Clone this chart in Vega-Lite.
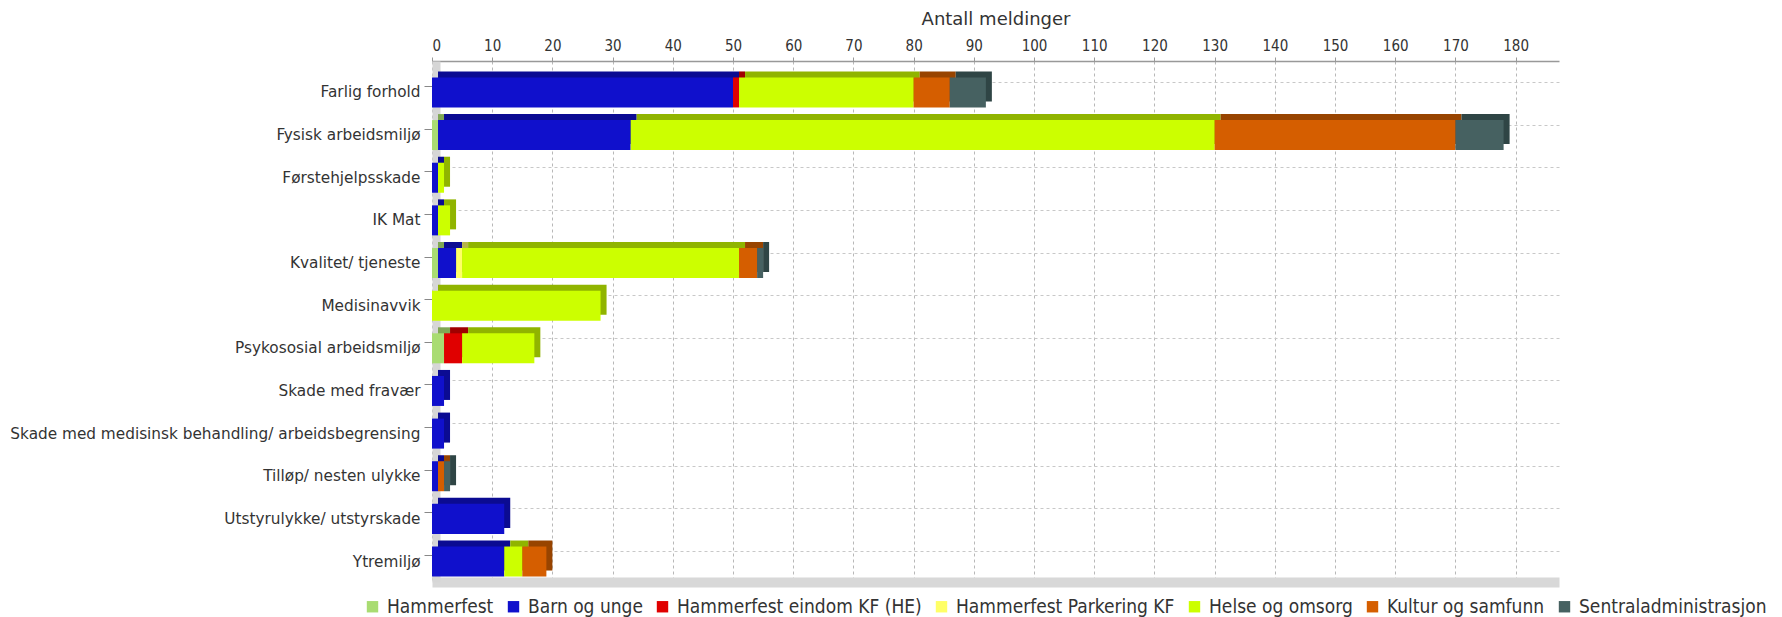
{
  "$schema": "https://vega.github.io/schema/vega-lite/v6.json",
  "width": 1127,
  "height": 521,
  "autosize": {"type": "none"},
  "padding": {"left": 432, "top": 61, "right": 223, "bottom": 35},
  "background": "white",
  "config": {"view": {"stroke": null}},
  "data": {
    "values": [
      {"kategori": "Farlig forhold", "enhet": "Barn og unge", "n": 2, "antall": 50},
      {"kategori": "Farlig forhold", "enhet": "Hammerfest eindom KF (HE)", "n": 3, "antall": 1},
      {"kategori": "Farlig forhold", "enhet": "Helse og omsorg", "n": 5, "antall": 29},
      {"kategori": "Farlig forhold", "enhet": "Kultur og samfunn", "n": 6, "antall": 6},
      {"kategori": "Farlig forhold", "enhet": "Sentraladministrasjon", "n": 7, "antall": 6},
      {"kategori": "Fysisk arbeidsmiljø", "enhet": "Hammerfest", "n": 1, "antall": 1},
      {"kategori": "Fysisk arbeidsmiljø", "enhet": "Barn og unge", "n": 2, "antall": 32},
      {"kategori": "Fysisk arbeidsmiljø", "enhet": "Helse og omsorg", "n": 5, "antall": 97},
      {"kategori": "Fysisk arbeidsmiljø", "enhet": "Kultur og samfunn", "n": 6, "antall": 40},
      {"kategori": "Fysisk arbeidsmiljø", "enhet": "Sentraladministrasjon", "n": 7, "antall": 8},
      {"kategori": "Førstehjelpsskade", "enhet": "Barn og unge", "n": 2, "antall": 1},
      {"kategori": "Førstehjelpsskade", "enhet": "Helse og omsorg", "n": 5, "antall": 1},
      {"kategori": "IK Mat", "enhet": "Barn og unge", "n": 2, "antall": 1},
      {"kategori": "IK Mat", "enhet": "Helse og omsorg", "n": 5, "antall": 2},
      {"kategori": "Kvalitet/ tjeneste", "enhet": "Hammerfest", "n": 1, "antall": 1},
      {"kategori": "Kvalitet/ tjeneste", "enhet": "Barn og unge", "n": 2, "antall": 3},
      {"kategori": "Kvalitet/ tjeneste", "enhet": "Hammerfest Parkering KF", "n": 4, "antall": 1},
      {"kategori": "Kvalitet/ tjeneste", "enhet": "Helse og omsorg", "n": 5, "antall": 46},
      {"kategori": "Kvalitet/ tjeneste", "enhet": "Kultur og samfunn", "n": 6, "antall": 3},
      {"kategori": "Kvalitet/ tjeneste", "enhet": "Sentraladministrasjon", "n": 7, "antall": 1},
      {"kategori": "Medisinavvik", "enhet": "Helse og omsorg", "n": 5, "antall": 28},
      {"kategori": "Psykososial arbeidsmiljø", "enhet": "Hammerfest", "n": 1, "antall": 2},
      {"kategori": "Psykososial arbeidsmiljø", "enhet": "Hammerfest eindom KF (HE)", "n": 3, "antall": 3},
      {"kategori": "Psykososial arbeidsmiljø", "enhet": "Helse og omsorg", "n": 5, "antall": 12},
      {"kategori": "Skade med fravær", "enhet": "Barn og unge", "n": 2, "antall": 2},
      {"kategori": "Skade med medisinsk behandling/ arbeidsbegrensing", "enhet": "Barn og unge", "n": 2, "antall": 2},
      {"kategori": "Tilløp/ nesten ulykke", "enhet": "Barn og unge", "n": 2, "antall": 1},
      {"kategori": "Tilløp/ nesten ulykke", "enhet": "Kultur og samfunn", "n": 6, "antall": 1},
      {"kategori": "Tilløp/ nesten ulykke", "enhet": "Sentraladministrasjon", "n": 7, "antall": 1},
      {"kategori": "Utstyrulykke/ utstyrskade", "enhet": "Barn og unge", "n": 2, "antall": 12},
      {"kategori": "Ytremiljø", "enhet": "Barn og unge", "n": 2, "antall": 12},
      {"kategori": "Ytremiljø", "enhet": "Helse og omsorg", "n": 5, "antall": 3},
      {"kategori": "Ytremiljø", "enhet": "Kultur og samfunn", "n": 6, "antall": 4}
    ]
  },
  "encoding": {
    "y": {
      "field": "kategori",
      "type": "nominal",
      "sort": ["Farlig forhold", "Fysisk arbeidsmiljø", "Førstehjelpsskade", "IK Mat", "Kvalitet/ tjeneste", "Medisinavvik", "Psykososial arbeidsmiljø", "Skade med fravær", "Skade med medisinsk behandling/ arbeidsbegrensing", "Tilløp/ nesten ulykke", "Utstyrulykke/ utstyrskade", "Ytremiljø"],
      "scale": {"paddingInner": 0.2964, "paddingOuter": 0.257, "align": 0.75},
      "axis": {
        "orient": "left",
        "title": null,
        "offset": -4,
        "domainColor": "#d6d6d6",
        "domainWidth": 8,
        "tickColor": "#888888",
        "tickSize": 12,
        "labelPadding": 4,
        "labelFont": "DejaVu Sans",
        "labelFontSize": 15.3,
        "labelColor": "#333333",
        "labelLimit": 600,
        "bandPosition": 0.3,
        "grid": false
      }
    },
    "order": {"field": "n", "type": "quantitative"}
  },
  "layer": [
    {
      "mark": {"type": "bar", "xOffset": 6, "x2Offset": 6, "yOffset": -6, "y2Offset": -6},
      "encoding": {
        "x": {
          "field": "antall",
          "type": "quantitative",
          "stack": "zero",
          "scale": {"domain": [0, 187.2], "nice": false, "zero": true},
          "axis": {"orient": "bottom", "title": null, "labels": false, "ticks": false, "grid": false, "domainColor": "#d8d8d8", "domainWidth": 10}
        },
        "color": {
          "field": "enhet",
          "type": "nominal",
          "scale": {
            "domain": ["Hammerfest", "Barn og unge", "Hammerfest eindom KF (HE)", "Hammerfest Parkering KF", "Helse og omsorg", "Kultur og samfunn", "Sentraladministrasjon"],
            "range": ["#80a854", "#0b0b92", "#a00000", "#b5b548", "#90b400", "#984400", "#2f4545"]
          },
          "legend": null
        }
      }
    },
    {
      "mark": {"type": "bar"},
      "encoding": {
        "x": {
          "field": "antall",
          "type": "quantitative",
          "stack": "zero",
          "scale": {"domain": [0, 187.2], "nice": false, "zero": true},
          "axis": {
            "orient": "top",
            "title": "Antall meldinger",
            "values": [0, 10, 20, 30, 40, 50, 60, 70, 80, 90, 100, 110, 120, 130, 140, 150, 160, 170, 180],
            "grid": true,
            "gridDash": [3, 3],
            "gridColor": "#b8b8b8",
            "domainColor": "#999999",
            "domainWidth": 1.5,
            "tickColor": "#999999",
            "tickSize": 4,
            "labelFont": "DejaVu Sans Condensed, DejaVu Sans",
            "labelFontSize": 15,
            "labelColor": "#333333",
            "labelPadding": 4,
            "titleFont": "DejaVu Sans",
            "titleFontSize": 18,
            "titleFontWeight": "normal",
            "titleColor": "#333333",
            "titlePadding": 10
          }
        },
        "y": {
          "field": "kategori",
          "type": "nominal",
          "sort": ["Farlig forhold", "Fysisk arbeidsmiljø", "Førstehjelpsskade", "IK Mat", "Kvalitet/ tjeneste", "Medisinavvik", "Psykososial arbeidsmiljø", "Skade med fravær", "Skade med medisinsk behandling/ arbeidsbegrensing", "Tilløp/ nesten ulykke", "Utstyrulykke/ utstyrskade", "Ytremiljø"],
          "scale": {"paddingInner": 0.2964, "paddingOuter": 0.257, "align": 0.75},
          "axis": {"orient": "right", "title": null, "labels": false, "ticks": false, "domain": false, "grid": true, "gridDash": [3, 3], "gridColor": "#c8c8c8", "bandPosition": 0.167}
        },
        "color": {
          "field": "enhet",
          "type": "nominal",
          "scale": {
            "domain": ["Hammerfest", "Barn og unge", "Hammerfest eindom KF (HE)", "Hammerfest Parkering KF", "Helse og omsorg", "Kultur og samfunn", "Sentraladministrasjon"],
            "range": ["#a9dc72", "#1010cc", "#e00000", "#ffff66", "#ccff00", "#d55e00", "#466161"]
          },
          "legend": {
            "title": null,
            "orient": "none",
            "legendX": -69,
            "legendY": 536,
            "direction": "horizontal",
            "symbolType": "square",
            "symbolSize": 130,
            "symbolStrokeWidth": 0,
            "labelFont": "DejaVu Sans Condensed, DejaVu Sans",
            "labelFontSize": 19,
            "labelColor": "#333333",
            "labelOffset": 5,
            "columnPadding": 10,
            "labelLimit": 400
          }
        }
      }
    }
  ],
  "resolve": {"scale": {"color": "independent"}}
}
